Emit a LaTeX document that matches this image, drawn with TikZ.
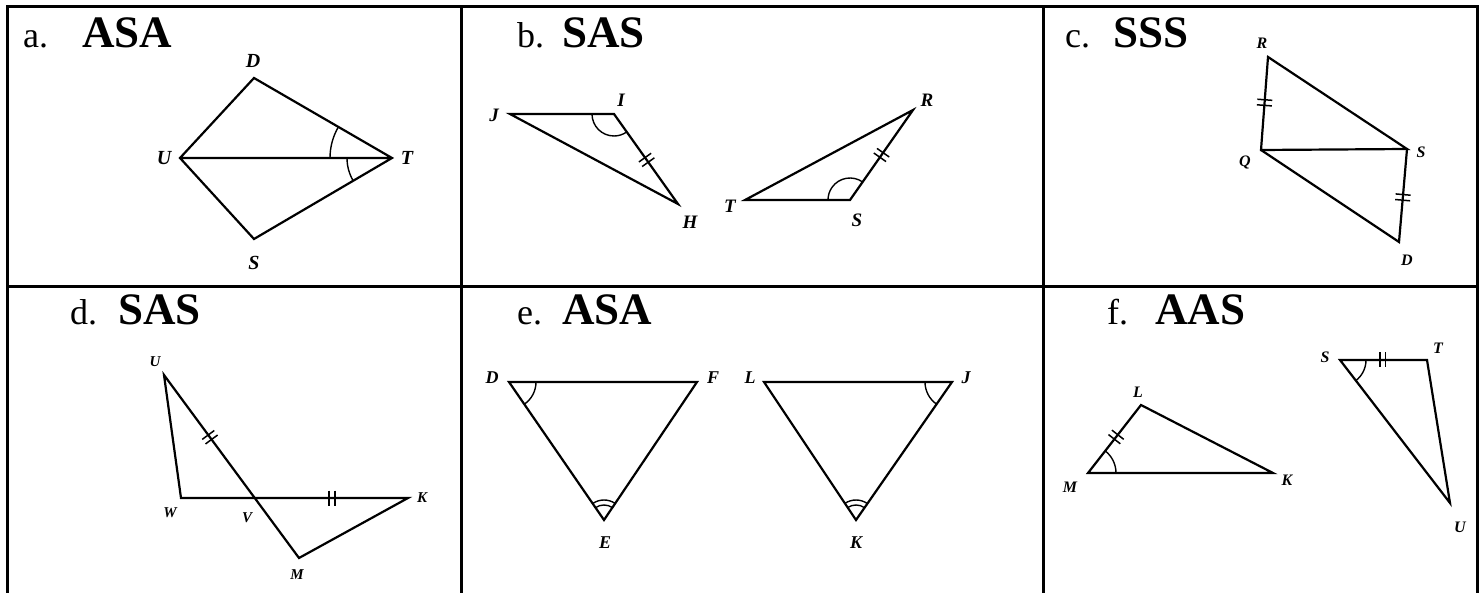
\documentclass[tikz,border=0pt]{standalone}
\usepackage{fontspec}
\setmainfont{Liberation Serif}
\usetikzlibrary{calc,angles}
\tikzset{
  grid/.style={line width=3pt, line cap=rect},
  side/.style={line width=2.2pt, line join=miter},
  tick/.style={line width=1.5pt},
  ang/.style={draw, line width=1.4pt},
  lettera/.style={font=\fontsize{36}{36}\selectfont, anchor=base west, inner sep=0pt},
  rule/.style={font=\fontsize{45}{45}\selectfont\bfseries, anchor=base west, inner sep=0pt},
  lbl/.style={font=\fontsize{#1}{#1}\selectfont\bfseries\itshape, inner sep=0pt},
  lbl/.default=19
}
\newcommand\dtick[3]{%
  \path ($(#1)!#3!(#2)$) coordinate (tkm);
  \path ($(tkm)!2.8pt!(#2)$) coordinate (tka) ($(tkm)!-2.8pt!(#2)$) coordinate (tkb);
  \draw[tick] ($(tka)!7.5pt!90:(#2)$) -- ($(tka)!7.5pt!-90:(#2)$)
              ($(tkb)!7.5pt!90:(#2)$) -- ($(tkb)!7.5pt!-90:(#2)$);
}
\begin{document}
\begin{tikzpicture}[x=1pt,y=1pt]
\useasboundingbox (0,0) rectangle (1483,-593);
% table
\draw[grid] (7,-593) -- (7,-7) -- (1477,-7) -- (1477,-593);
\draw[grid] (461,-7) -- (461,-593);
\draw[grid] (1043,-7) -- (1043,-593);
\draw[grid] (7,-287) -- (1477,-287);

% ---- cell a
\node[lettera] (la) at (23,-48) {a.};
\node[rule] (ra) at (82,-48) {ASA};
\coordinate (aD) at (254,-78);
\coordinate (aU) at (180,-158);
\coordinate (aT) at (392,-158);
\coordinate (aS) at (254,-239);
\draw[side] (aU) -- (aD) -- (aT) -- (aS) -- cycle (aU) -- (aT);
\pic[ang, angle radius=62pt] {angle = aD--aT--aU};
\pic[ang, angle radius=45pt] {angle = aU--aT--aS};
\node[lbl=20] (naD) at (253,-61) {D};
\node[lbl=20] (naU) at (164,-158) {U};
\node[lbl=20] (naT) at (407,-158) {T};
\node[lbl=20] (naS) at (254,-263) {S};

% ---- cell b
\node[lettera] (lb) at (517,-48) {b.};
\node[rule] (rb) at (562,-48) {SAS};
\coordinate (bJ) at (510,-114);
\coordinate (bI) at (614,-114);
\coordinate (bH) at (678,-204);
\draw[side] (bJ) -- (bI) -- (bH) -- cycle;
\pic[ang, angle radius=22pt] {angle = bJ--bI--bH};
\dtick{bI}{bH}{0.51}
\coordinate (bT) at (745,-200);
\coordinate (bS) at (850,-200);
\coordinate (bR) at (913,-110);
\draw[side] (bT) -- (bS) -- (bR) -- cycle;
\pic[ang, angle radius=22pt] {angle = bR--bS--bT};
\dtick{bS}{bR}{0.5}
\node[lbl] (nbJ) at (494,-115) {J};
\node[lbl] (nbI) at (621,-100) {I};
\node[lbl] (nbH) at (690,-222) {H};
\node[lbl] (nbT) at (730,-206) {T};
\node[lbl] (nbS) at (857,-220) {S};
\node[lbl] (nbR) at (927,-100) {R};

% ---- cell c
\node[lettera] (lc) at (1065,-48) {c.};
\node[rule] (rc) at (1113,-48) {SSS};
\coordinate (cR) at (1268,-57);
\coordinate (cQ) at (1261,-150);
\coordinate (cS) at (1407,-149);
\coordinate (cD) at (1399,-242);
\draw[side] (cR) -- (cQ) -- (cS) -- cycle;
\draw[side] (cQ) -- (cD) -- (cS);
\dtick{cR}{cQ}{0.49}
\dtick{cS}{cD}{0.52}
\node[lbl=16] (ncR) at (1262,-43) {R};
\node[lbl=16] (ncQ) at (1245,-163) {Q};
\node[lbl=16] (ncS) at (1421,-152) {S};
\node[lbl=16] (ncD) at (1407,-260) {D};

% ---- cell d
\node[lettera] (ld) at (70,-325) {d.};
\node[rule] (rd) at (118,-325) {SAS};
\coordinate (dU) at (164,-375);
\coordinate (dW) at (181,-498);
\coordinate (dK) at (408,-498);
\coordinate (dM) at (299,-558);
\coordinate (dV) at (254.7,-498);
\draw[side] (dU) -- (dW) -- (dK) -- (dM) -- cycle;
\dtick{dU}{dM}{0.34}
\dtick{dW}{dK}{0.665}
\node[lbl=15] (ndU) at (155,-362) {U};
\node[lbl=15] (ndW) at (170,-513) {W};
\node[lbl=15] (ndV) at (247,-518) {V};
\node[lbl=15] (ndK) at (422,-498) {K};
\node[lbl=15] (ndM) at (297,-575) {M};

% ---- cell e
\node[lettera] (le) at (517,-325) {e.};
\node[rule] (re) at (562,-325) {ASA};
\coordinate (eD) at (509,-382);
\coordinate (eF) at (697,-382);
\coordinate (eE) at (604,-520);
\draw[side] (eD) -- (eF) -- (eE) -- cycle;
\pic[ang, angle radius=27pt] {angle = eE--eD--eF};
\pic[ang, angle radius=20pt] {angle = eF--eE--eD};
\pic[ang, angle radius=15pt] {angle = eF--eE--eD};
\coordinate (eL) at (764,-382);
\coordinate (eJ) at (952,-382);
\coordinate (eK) at (856,-520);
\draw[side] (eL) -- (eJ) -- (eK) -- cycle;
\pic[ang, angle radius=27pt] {angle = eL--eJ--eK};
\pic[ang, angle radius=20pt] {angle = eJ--eK--eL};
\pic[ang, angle radius=15pt] {angle = eJ--eK--eL};
\node[lbl=18] (neD) at (492,-378) {D};
\node[lbl=18] (neF) at (713,-378) {F};
\node[lbl=18] (neE) at (605,-543) {E};
\node[lbl=18] (neL) at (750,-378) {L};
\node[lbl=18] (neJ) at (966,-378) {J};
\node[lbl=18] (neK) at (856,-543) {K};

% ---- cell f
\node[lettera] (lf) at (1107,-325) {f.};
\node[rule] (rf) at (1155,-325) {AAS};
\coordinate (fL) at (1141,-405);
\coordinate (fM) at (1088,-473);
\coordinate (fK) at (1273,-473);
\draw[side] (fM) -- (fL) -- (fK) -- cycle;
\pic[ang, angle radius=28pt] {angle = fK--fM--fL};
\dtick{fM}{fL}{0.53}
\coordinate (fS) at (1340,-360);
\coordinate (fT) at (1427,-360);
\coordinate (fU) at (1450,-503);
\draw[side] (fS) -- (fT) -- (fU) -- cycle;
\pic[ang, angle radius=26pt] {angle = fU--fS--fT};
\dtick{fS}{fT}{0.49}
\node[lbl=16] (nfL) at (1138,-392) {L};
\node[lbl=16] (nfM) at (1070,-487) {M};
\node[lbl=16] (nfK) at (1287,-480) {K};
\node[lbl=16] (nfS) at (1325,-357) {S};
\node[lbl=16] (nfT) at (1438,-348) {T};
\node[lbl=16] (nfU) at (1460,-527) {U};
\end{tikzpicture}
\end{document}
